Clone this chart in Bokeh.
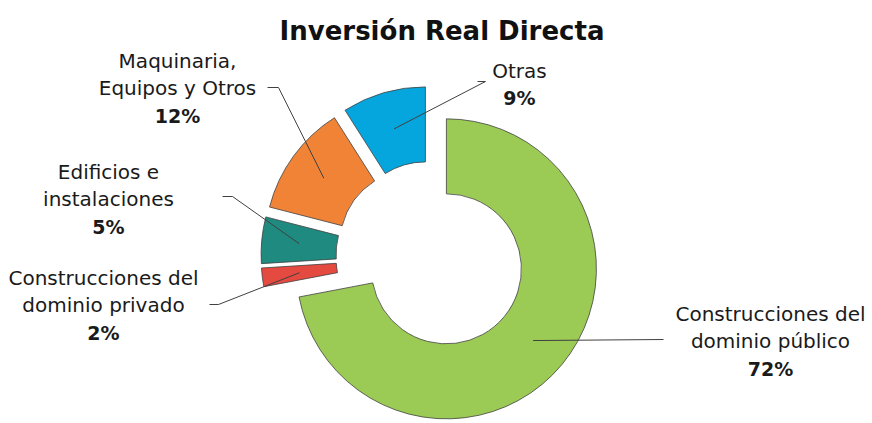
import math
from bokeh.plotting import figure
from bokeh.models import Range1d, ColumnDataSource
from bokeh.core.properties import value
from bokeh.embed import file_html
from bokeh.resources import INLINE

# ---- data ----
categories = ["Construcciones del dominio público", "Construcciones del dominio privado",
              "Edificios e instalaciones", "Maquinaria, Equipos y Otros", "Otras"]
label_lines = [["Construcciones del", "dominio público"],
               ["Construcciones del", "dominio privado"],
               ["Edificios e", "instalaciones"],
               ["Maquinaria,", "Equipos y Otros"],
               ["Otras"]]
values = [72, 2, 5, 12, 9]
title_text = "Inversión Real Directa"

# ---- style / layout ----
colors = ["#9BCB55", "#E54A40", "#1F8A80", "#F08336", "#05A6DD"]
explode = [20, 20, 20, 20, 20]
W, H = 872, 423
FONT = "DejaVu Sans"


def sx(X):
    return X


def sy(Y):
    return H - Y


CX, CY = sx(430.5), sy(255.6)
R_OUT, R_IN = 150, 75
R_MID = (R_OUT + R_IN) / 2

# label layout in page pixels
label_x = [770, 103, 108, 177, 519]
label_y0 = [313, 277, 171, 60, 70]
LINE_STEP = 27.5
leader_start = [[(663, 339)],
                [(209, 304), (218, 304)],
                [(222, 196), (232, 196)],
                [(267, 87), (278, 87)],
                [(477, 81), (485, 81)]]

total = float(sum(values))
cum = 0.0
xs_c, ys_c, st, en, anchors = [], [], [], [], []
for v, ex in zip(values, explode):
    a0 = cum / total * 360.0
    cum += v
    a1 = cum / total * 360.0
    am = math.radians((a0 + a1) / 2)
    cx = CX + ex * math.sin(am)
    cy = CY + ex * math.cos(am)
    xs_c.append(cx)
    ys_c.append(cy)
    st.append(math.radians(90 - a0))
    en.append(math.radians(90 - a1))
    anchors.append((cx + R_MID * math.sin(am), cy + R_MID * math.cos(am)))

p = figure(width=W, height=H, output_backend="svg", toolbar_location=None,
           x_range=Range1d(0, W), y_range=Range1d(0, H),
           x_axis_type=None, y_axis_type=None, min_border=0)
p.grid.visible = False
p.outline_line_color = None
p.background_fill_color = "white"
p.border_fill_color = "white"

src = ColumnDataSource(dict(x=xs_c, y=ys_c, s=st, e=en, c=colors, cat=categories))
p.annular_wedge(x="x", y="y", inner_radius=R_IN, outer_radius=R_OUT,
                start_angle="s", end_angle="e", direction="clock",
                fill_color="c", line_color="#404040", line_width=0.8, source=src)

# leader lines
lx, ly = [], []
for pts, anc in zip(leader_start, anchors):
    lx.append([sx(a) for a, b in pts] + [anc[0]])
    ly.append([sy(b) for a, b in pts] + [anc[1]])
p.multi_line(xs=lx, ys=ly, line_color="#404040", line_width=1)

# labels
tx, ty, tt = [], [], []
px, py, pt = [], [], []
for lines, x0, y0, v in zip(label_lines, label_x, label_y0, values):
    for k, line in enumerate(lines):
        tx.append(sx(x0))
        ty.append(sy(y0 + k * LINE_STEP))
        tt.append(line)
    px.append(sx(x0))
    py.append(sy(y0 + len(lines) * LINE_STEP))
    pt.append(f"{round(v / total * 100)}%")

p.text(x=tx, y=ty, text=tt, text_align="center", text_baseline="middle",
       text_font=value(FONT), text_font_size="20px", text_color="#1a1a1a")
p.text(x=px, y=py, text=pt, text_align="center", text_baseline="middle",
       text_font=value(FONT), text_font_size="19px", text_font_style="bold",
       text_color="#1a1a1a")

p.text(x=[sx(441.5)], y=[sy(30)], text=[title_text], text_align="center",
       text_baseline="alphabetic", text_font=value(FONT), text_font_size="26px",
       text_font_style="bold", text_color="#111111")

open("out.html", "w").write(file_html(p, INLINE))
